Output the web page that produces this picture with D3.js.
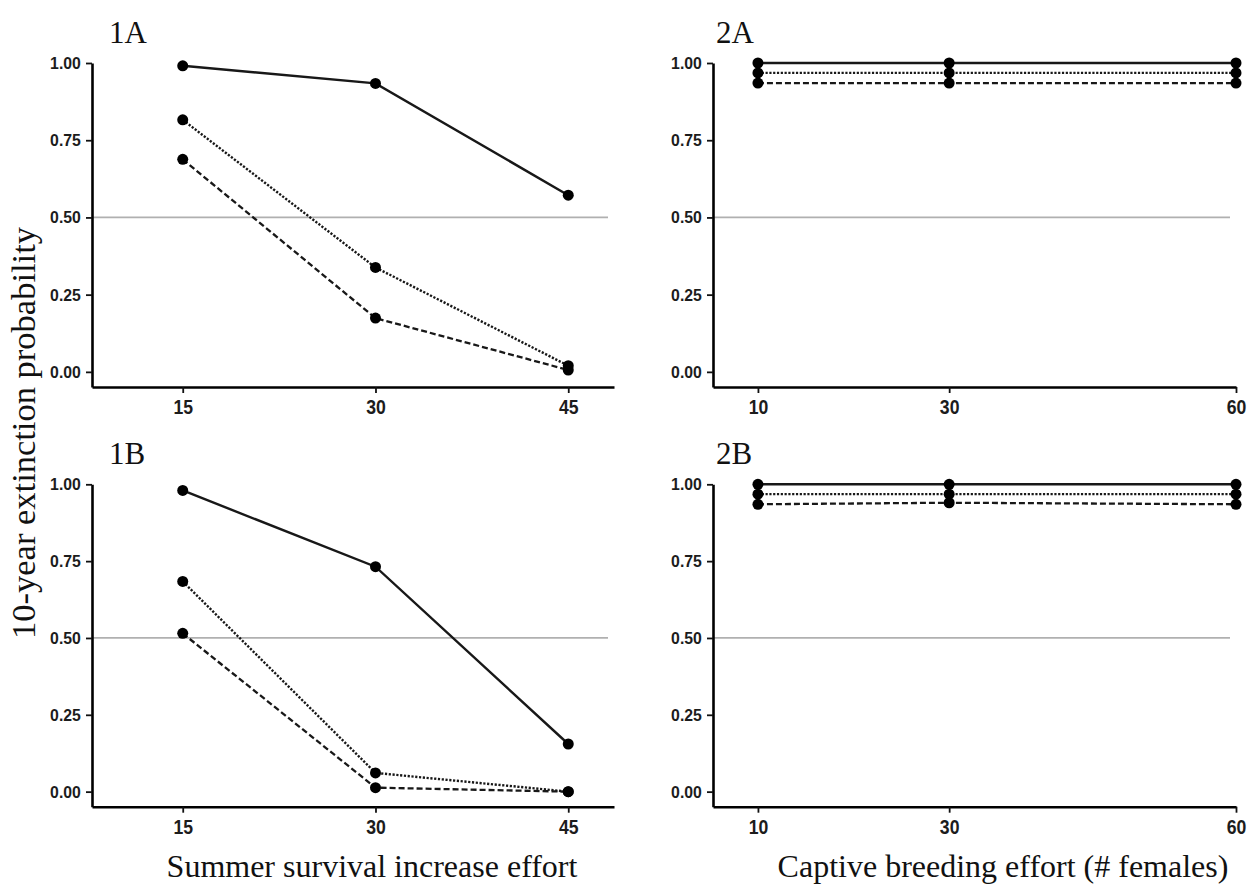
<!DOCTYPE html>
<html>
<head>
<meta charset="utf-8">
<script src="https://cdn.jsdelivr.net/npm/d3@7"></script>
<style>
  html, body { margin: 0; padding: 0; background: #fff; }
  svg { display: block; }
</style>
</head>
<body>
<svg id="chart" width="1248" height="889"></svg>
<script>
// Effort levels on the x axes
const summerEffort = [15, 30, 45];
const captiveEffort = [10, 30, 60];
const yTickValues = [0, 0.25, 0.5, 0.75, 1];

// 10-year extinction probabilities, three scenarios per panel
const p1A_solid  = [0.991, 0.934, 0.572];
const p1A_dotted = [0.816, 0.338, 0.020];
const p1A_dashed = [0.688, 0.174, 0.006];

const p1B_solid  = [0.980, 0.732, 0.155];
const p1B_dotted = [0.684, 0.061, 0.000];
const p1B_dashed = [0.515, 0.013, 0.000];

const p2A_solid  = [1.000, 1.000, 1.000];
const p2A_dotted = [0.968, 0.968, 0.968];
const p2A_dashed = [0.935, 0.935, 0.935];

const p2B_solid  = [1.000, 1.000, 1.000];
const p2B_dotted = [0.968, 0.968, 0.968];
const p2B_dashed = [0.935, 0.940, 0.935];

const panelLabels = ["1A", "1B", "2A", "2B"];
const xTitles = ["Summer survival increase effort", "Captive breeding effort (# females)"];
const yTitle = "10-year extinction probability";

const svg = d3.select("#chart");

const lineStyles = {
  solid:  { dash: null,      width: 2.4 },
  dotted: { dash: "2.2,1.6", width: 2.4 },
  dashed: { dash: "6,3",     width: 2.3 }
};

function drawPanel(cfg) {
  const x = d3.scaleLinear().domain(cfg.xDomain).range(cfg.xRange);
  const y = d3.scaleLinear().domain([-0.049, 1.0]).range(cfg.yRange);
  const g = svg.append("g");

  // reference line at 0.5
  g.append("line")
    .attr("x1", cfg.xRange[0]).attr("x2", cfg.xRange[1] - 6)
    .attr("y1", y(0.5)).attr("y2", y(0.5))
    .attr("stroke", "#b0b0b0").attr("stroke-width", 1.8);

  // y axis
  const ya = g.append("g")
    .attr("transform", `translate(${cfg.xRange[0]},0)`)
    .call(d3.axisLeft(y).tickValues(yTickValues).tickFormat(d3.format(".2f"))
      .tickSize(6).tickSizeOuter(0).tickPadding(6));
  ya.select(".domain").attr("stroke", "#000").attr("stroke-width", 2.6);
  ya.selectAll(".tick line").attr("stroke", "#111").attr("stroke-width", 1.8);
  ya.selectAll(".tick text")
    .attr("font-family", "'Liberation Sans', Arial, sans-serif")
    .attr("font-weight", "bold").attr("font-size", 17).attr("fill", "#1c1c1c")
    .attr("transform", "scale(0.93,1)");

  // x axis
  const xa = g.append("g")
    .attr("transform", `translate(0,${cfg.yRange[0]})`)
    .call(d3.axisBottom(x).tickValues(cfg.xTicks).tickFormat(d3.format("d"))
      .tickSize(6).tickSizeOuter(0).tickPadding(6));
  xa.select(".domain").attr("stroke", "#000").attr("stroke-width", 2.6);
  xa.selectAll(".tick line").attr("stroke", "#111").attr("stroke-width", 1.8);
  xa.selectAll(".tick text")
    .attr("font-family", "'Liberation Sans', Arial, sans-serif")
    .attr("font-weight", "bold").attr("font-size", 21).attr("fill", "#1c1c1c")
    .attr("transform", "scale(0.84,1)");

  // series
  const line = d3.line().x((d, i) => x(cfg.xTicks[i])).y(d => y(d));
  cfg.series.forEach(s => {
    const st = lineStyles[s.style];
    g.append("path")
      .attr("d", line(s.values))
      .attr("fill", "none")
      .attr("stroke", "#181818")
      .attr("stroke-width", st.width)
      .attr("stroke-dasharray", st.dash);
  });
  cfg.series.forEach(s => {
    g.selectAll(null).data(s.values).enter().append("circle")
      .attr("cx", (d, i) => x(cfg.xTicks[i]))
      .attr("cy", d => y(d))
      .attr("r", 5.5)
      .attr("fill", "#000");
  });

  // panel label
  g.append("text")
    .attr("x", cfg.labelX).attr("y", cfg.labelY)
    .attr("font-family", "'Liberation Serif', 'Times New Roman', serif")
    .attr("font-size", 31).attr("fill", "#111")
    .text(cfg.label);
}

const leftX = { xDomain: [7.94, 48.56], xRange: [92, 614], xTicks: summerEffort, labelX: 109 };
const rightX = { xDomain: [5.3, 60], xRange: [713, 1236], xTicks: captiveEffort, labelX: 716 };
const topY = { yRange: [387, 63], labelY: 43 };
const botY = { yRange: [806.7, 484.3], labelY: 464 };

drawPanel({ ...leftX, ...topY, label: panelLabels[0], series: [
  { style: "solid", values: p1A_solid },
  { style: "dotted", values: p1A_dotted },
  { style: "dashed", values: p1A_dashed }] });
drawPanel({ ...leftX, ...botY, label: panelLabels[1], series: [
  { style: "solid", values: p1B_solid },
  { style: "dotted", values: p1B_dotted },
  { style: "dashed", values: p1B_dashed }] });
drawPanel({ ...rightX, ...topY, label: panelLabels[2], series: [
  { style: "solid", values: p2A_solid },
  { style: "dotted", values: p2A_dotted },
  { style: "dashed", values: p2A_dashed }] });
drawPanel({ ...rightX, ...botY, label: panelLabels[3], series: [
  { style: "solid", values: p2B_solid },
  { style: "dotted", values: p2B_dotted },
  { style: "dashed", values: p2B_dashed }] });

// axis titles
const serif = "'Liberation Serif', 'Times New Roman', serif";
svg.append("text")
  .attr("x", 372).attr("y", 877).attr("text-anchor", "middle")
  .attr("font-family", serif).attr("font-size", 32).attr("fill", "#111")
  .text(xTitles[0]);
svg.append("text")
  .attr("x", 1003).attr("y", 877).attr("text-anchor", "middle")
  .attr("font-family", serif).attr("font-size", 32).attr("fill", "#111")
  .text(xTitles[1]);
svg.append("text")
  .attr("transform", "translate(35,433) rotate(-90)")
  .attr("text-anchor", "middle")
  .attr("font-family", serif).attr("font-size", 34.5).attr("fill", "#111")
  .text(yTitle);
</script>
</body>
</html>
